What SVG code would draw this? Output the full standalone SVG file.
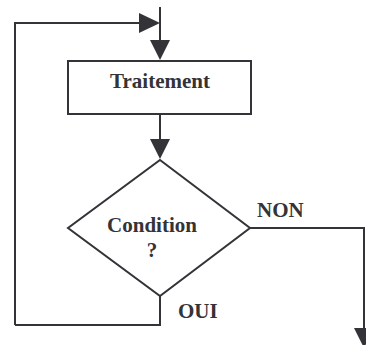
<svg xmlns="http://www.w3.org/2000/svg" width="366" height="345" viewBox="0 0 366 345">
<style>
.ln{fill:none;stroke:#333338;stroke-width:2}
.ah{fill:#333338;stroke:none}
.nd{fill:#fff;stroke:#333338;stroke-width:2}
text{font-family:"Liberation Serif","Times New Roman",serif;font-weight:bold;font-size:21px;fill:#333338}
</style>
<rect width="366" height="345" fill="#fff"/>
<g id="connectors">
<path class="ln" d="M160,7 V42"/>
<path class="ln" d="M15,325 V23 H141"/>
<polygon class="ah" points="139,13 160,23 139,33"/>
<polygon class="ah" points="150,40 170,40 160,60"/>
<path class="ln" d="M160,114 V141"/>
<polygon class="ah" points="150,139 170,139 160,159"/>
<path class="ln" d="M160,296 V325 H15"/>
<path class="ln" d="M250,228 H364 V330"/>
<polygon class="ah" points="354,328 374,328 364,348"/>
<text x="257" y="217">NON</text>
<text x="178" y="318">OUI</text>
</g>
<g id="traitement">
<rect class="nd" x="68" y="61" width="183" height="53"/>
<text x="160" y="88" text-anchor="middle">Traitement</text>
</g>
<g id="condition">
<polygon class="nd" points="160,160 250,228 160,296 68,228"/>
<text x="152" y="232" text-anchor="middle">Condition</text>
<text x="152" y="257" text-anchor="middle">?</text>
</g>
</svg>
